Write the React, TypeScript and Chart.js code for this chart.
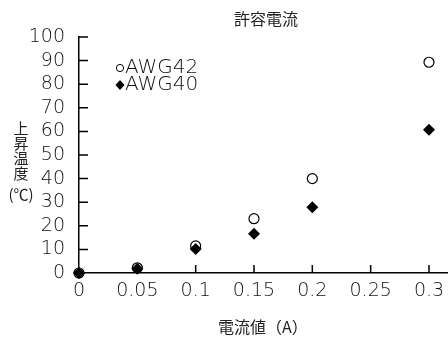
import React, { useEffect, useRef } from 'react';
import { Chart, registerables } from 'chart.js';

Chart.register(...registerables);

const chartTitle = '許容電流';
const xAxisTitle = '電流値（A）';
const yAxisTitleLines = ['上', '昇', '温', '度', '(℃)'];
const seriesNames = ['AWG42', 'AWG40'];
const currents = [0, 0.05, 0.1, 0.15, 0.2, 0.3];
const awg42 = [0, 2.2, 11.5, 23, 40, 89.3];
const awg40 = [0, 1.8, 10.2, 16.6, 27.9, 60.7];
const xTickValues = [0, 0.05, 0.1, 0.15, 0.2, 0.25, 0.3];
const yTickValues = [0, 10, 20, 30, 40, 50, 60, 70, 80, 90, 100];

const LATIN = '"DejaVu Sans", "Noto Sans", sans-serif';
const CJK = '"Noto Sans CJK JP", "Noto Sans", sans-serif';

const decoPlugin = {
  id: 'deco',
  beforeDatasetsDraw(chart: any) {
    const { ctx, scales } = chart;
    const x = scales.x;
    const y = scales.y;
    ctx.save();
    ctx.strokeStyle = '#000';
    ctx.lineWidth = 1.5;
    ctx.beginPath();
    for (const v of yTickValues) {
      if (v === 0) continue;
      const py = y.getPixelForValue(v);
      ctx.moveTo(x.left, py);
      ctx.lineTo(x.left + 9, py);
    }
    for (const v of xTickValues) {
      if (v === 0) continue;
      const px = x.getPixelForValue(v);
      ctx.moveTo(px, y.bottom);
      ctx.lineTo(px, y.bottom - 8);
    }
    ctx.stroke();
    ctx.restore();
  },
  afterDraw(chart: any) {
    const { ctx } = chart;
    ctx.save();
    ctx.fillStyle = '#222';
    ctx.textAlign = 'center';
    ctx.textBaseline = 'middle';
    ctx.font = `16px ${CJK}`;
    ctx.fillText(chartTitle, 266, 19);
    ctx.textAlign = 'left';
    ctx.font = `16px ${CJK}`;
    ctx.fillText(xAxisTitle, 218, 327);
    ctx.textAlign = 'center';
    ctx.font = `15px ${CJK}`;
    const ys = [128, 143, 158, 173, 194];
    yAxisTitleLines.forEach((t, i) => {
      ctx.fillText(t, 21, ys[i]);
    });
    // legend
    ctx.textAlign = 'left';
    ctx.font = `300 20px ${LATIN}`;
    ctx.fillStyle = '#111';
    ctx.fillText(seriesNames[0], 125, 68);
    ctx.fillText(seriesNames[1], 125, 85);
    ctx.strokeStyle = '#000';
    ctx.lineWidth = 1;
    ctx.beginPath();
    ctx.arc(120, 68, 3.6, 0, Math.PI * 2);
    ctx.fillStyle = '#fff';
    ctx.fill();
    ctx.stroke();
    ctx.beginPath();
    ctx.fillStyle = '#000';
    ctx.moveTo(120, 80);
    ctx.lineTo(124.5, 85);
    ctx.lineTo(120, 90);
    ctx.lineTo(115.5, 85);
    ctx.closePath();
    ctx.fill();
    ctx.restore();
  },
};

export default function App() {
  const ref = useRef<HTMLCanvasElement>(null);
  useEffect(() => {
    const canvas = ref.current!;
    const chart = new Chart(canvas, {
      type: 'scatter',
      data: {
        datasets: [
          {
            label: seriesNames[0],
            data: currents.map((c, i) => ({ x: c, y: awg42[i] })),
            pointStyle: 'circle',
            pointRadius: 5,
            pointBorderWidth: 1.2,
            pointBackgroundColor: '#fff',
            pointBorderColor: '#000',
            order: 1,
            clip: false as any,
          },
          {
            label: seriesNames[1],
            data: currents.map((c, i) => ({ x: c, y: awg40[i] })),
            pointStyle: 'rectRot',
            pointRadius: 6,
            pointBorderWidth: 0,
            pointBackgroundColor: '#000',
            pointBorderColor: '#000',
            order: 0,
            clip: false as any,
          },
        ],
      },
      options: {
        responsive: false,
        animation: false,
        layout: { autoPadding: false, padding: { top: 37, left: 0, right: 0, bottom: 0 } },
        plugins: {
          legend: { display: false },
          title: { display: false },
          tooltip: { enabled: false },
        },
        scales: {
          x: {
            type: 'linear',
            min: 0,
            max: 0.3163,
            afterBuildTicks: (s: any) => {
              s.ticks = xTickValues.map((v) => ({ value: v }));
            },
            afterFit: (s: any) => {
              s.height = 64;
              s.paddingRight = 0;
              s.paddingLeft = 0;
            },
            grid: { display: false },
            border: { display: true, color: '#000', width: 1.5 },
            ticks: {
              color: '#111',
              font: { family: LATIN, size: 19, weight: '300' as any },
              padding: -1,
              maxRotation: 0,
              autoSkip: false,
              callback: (v: any) => String(Number(Number(v).toFixed(2))),
            },
          },
          y: {
            type: 'linear',
            min: 0,
            max: 100,
            afterBuildTicks: (s: any) => {
              s.ticks = yTickValues.map((v) => ({ value: v }));
            },
            afterFit: (s: any) => {
              s.width = 79;
              s.paddingTop = 0;
              s.paddingBottom = 0;
            },
            grid: { display: false },
            border: { display: true, color: '#000', width: 1.5 },
            ticks: {
              color: '#111',
              font: { family: LATIN, size: 19, weight: '300' as any },
              padding: 6,
              autoSkip: false,
            },
          },
        },
      },
      plugins: [decoPlugin],
    });
    return () => chart.destroy();
  }, []);
  return (
    <div style={{ position: 'fixed', left: 0, top: 0, width: 448, height: 337, background: '#fff' }}>
      <canvas ref={ref} width={448} height={337} style={{ display: 'block' }} />
    </div>
  );
}
